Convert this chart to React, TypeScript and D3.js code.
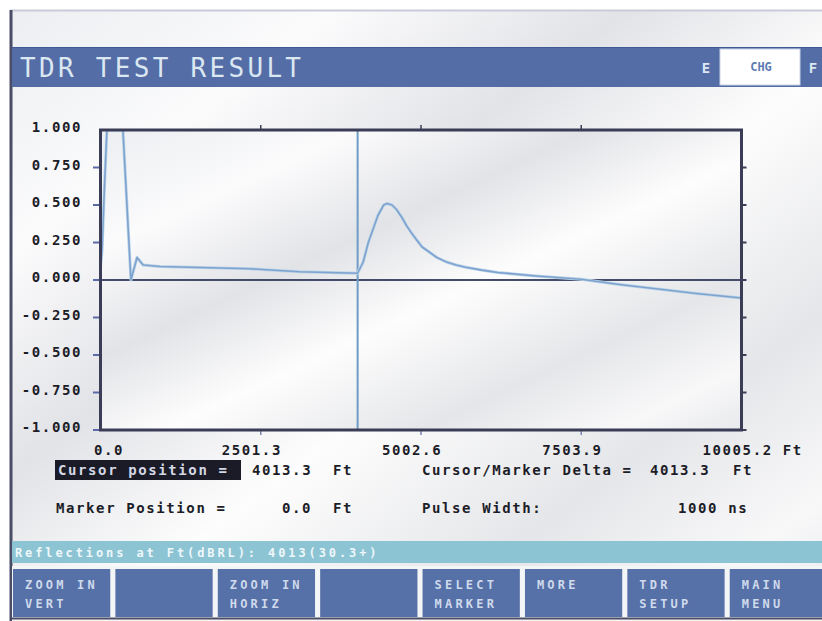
import React from 'react';
import * as d3 from 'd3';

// trace: distance (ft) vs reflection coefficient
const traceFt = [0, 25, 55, 100, 350, 400, 475, 570, 665, 930, 2330, 3110, 4013, 4100, 4180, 4330, 4420, 4470, 4550, 4620, 4700, 4780, 4860, 4930, 5020, 5120, 5250, 5400, 5550, 5700, 5950, 6200, 6800, 7500, 8100, 8700, 9300, 10005.2];
const traceVal = [0.08, 0.2, 0.55, 1.0, 1.0, 0.6, 0.0, 0.15, 0.1, 0.09, 0.075, 0.055, 0.045, 0.12, 0.25, 0.43, 0.5, 0.51, 0.5, 0.47, 0.42, 0.36, 0.31, 0.27, 0.22, 0.19, 0.15, 0.12, 0.1, 0.085, 0.066, 0.05, 0.027, 0.005, -0.03, -0.06, -0.09, -0.12];

const yTicks = [1, 0.75, 0.5, 0.25, 0, -0.25, -0.5, -0.75, -1];
const xTicks = [0, 2501.3, 5002.6, 7503.9, 10005.2];
const cursorFt = 4013.3;

const buttons = [
  ['ZOOM IN', 'VERT'],
  ['', ''],
  ['ZOOM IN', 'HORIZ'],
  ['', ''],
  ['SELECT', 'MARKER'],
  ['MORE', ''],
  ['TDR', 'SETUP'],
  ['MAIN', 'MENU'],
];

const MONO = '"DejaVu Sans Mono", "Liberation Mono", monospace';

export default function App() {
  const W = 822;
  const H = 621;
  const plot = { left: 100.5, right: 741.5, top: 130, bottom: 430 };

  const x = d3.scaleLinear().domain([0, 10005.2]).range([plot.left, plot.right]);
  const y = d3.scaleLinear().domain([-1, 1]).range([plot.bottom, plot.top]);

  const pts = traceFt.map((f, i) => [f, traceVal[i]] as [number, number]);
  const line = d3.line<[number, number]>()
    .x(d => x(d[0]))
    .y(d => y(d[1]));

  const lbl = { fontFamily: MONO, fontSize: 14, fontWeight: 700, letterSpacing: 1.6, fill: '#1c1d28' } as const;
  const key = { fontFamily: MONO, fontSize: 12, fontWeight: 700, letterSpacing: 3.2, fill: '#cfdaec' } as const;

  const btnX = d3.scaleBand<number>().domain(d3.range(8)).range([13, 827]).paddingInner(0.05);

  return (
    <div style={{ position: 'fixed', left: 0, top: 0 }}>
      <svg width={W} height={H} viewBox={`0 0 ${W} ${H}`}>
        <defs>
          <linearGradient id="metal" x1="0" y1="0" x2="1" y2="1">
            <stop offset="0" stopColor="#eceef1" />
            <stop offset="0.2" stopColor="#fbfbfc" />
            <stop offset="0.38" stopColor="#e2e3e7" />
            <stop offset="0.55" stopColor="#fdfdfd" />
            <stop offset="0.75" stopColor="#e5e6e9" />
            <stop offset="0.9" stopColor="#f8f8f9" />
            <stop offset="1" stopColor="#e8e9ec" />
          </linearGradient>
          <clipPath id="plotClip">
            <rect x={plot.left} y={plot.top - 1} width={plot.right - plot.left} height={plot.bottom - plot.top + 2} />
          </clipPath>
        </defs>

        <rect x={0} y={0} width={W} height={H} fill="#ffffff" />
        <rect x={10} y={10} width={W - 10} height={H - 10} fill="url(#metal)" />
        <line x1={10} x2={W} y1={10.5} y2={10.5} stroke="#c9ccd8" strokeWidth={2} />
        <line x1={11} x2={11} y1={10} y2={H} stroke="#4a4d66" strokeWidth={3} />

        {/* title bar */}
        <rect x={12} y={47} width={W - 12} height={40} fill="#546da6" />
        <line x1={12} x2={W} y1={47.5} y2={47.5} stroke="#3f5896" strokeWidth={1} />
        <text x={20} y={77} fontFamily={MONO} fontSize={26} letterSpacing={3.3} fill="#dbe7f1">TDR TEST RESULT</text>
        <text x={706} y={73} fontFamily={MONO} fontSize={14} fontWeight={700} fill="#dbe7f1" textAnchor="middle">E</text>
        <rect x={720} y={49} width={80} height={36} fill="#ffffff" stroke="#c9d3e6" strokeWidth={1} />
        <text x={761} y={71} fontFamily={MONO} fontSize={12} fontWeight={700} fill="#5d7cb3" textAnchor="middle">CHG</text>
        <text x={813} y={73} fontFamily={MONO} fontSize={14} fontWeight={700} fill="#dbe7f1" textAnchor="middle">F</text>

        {/* plot */}
        <rect x={plot.left} y={plot.top} width={plot.right - plot.left} height={plot.bottom - plot.top} fill="url(#metal)" />

        {yTicks.slice(1).map(v => (
          <g key={'yt' + v}>
            <line x1={93} x2={plot.left} y1={y(v)} y2={y(v)} stroke="#5a6aa6" strokeWidth={2} />
            <line x1={plot.right} x2={plot.right + 5} y1={y(v)} y2={y(v)} stroke="#3a3d58" strokeWidth={2} />
          </g>
        ))}
        {yTicks.map(v => (
          <text key={'yl' + v} x={82} y={y(v) + 2} textAnchor="end" {...lbl}>{d3.format('.3f')(v).replace('−', '-')}</text>
        ))}

        {xTicks.slice(1, 4).map(v => (
          <g key={'xt' + v}>
            <line x1={x(v)} x2={x(v)} y1={plot.top - 5} y2={plot.top} stroke="#3a3d58" strokeWidth={1.5} />
            <line x1={x(v)} x2={x(v)} y1={plot.bottom} y2={plot.bottom + 5} stroke="#7a86b0" strokeWidth={1.5} />
          </g>
        ))}
        {xTicks.map((v, i) => (
          <text key={'xl' + v} x={i === 0 ? 94 : x(v) - 39} y={455} {...lbl}>
            {d3.format('.1f')(v)}{i === xTicks.length - 1 ? ' Ft' : ''}
          </text>
        ))}

        <line x1={plot.left} x2={plot.right} y1={y(0)} y2={y(0)} stroke="#474b6a" strokeWidth={2} />
        <line x1={x(cursorFt)} x2={x(cursorFt)} y1={plot.top} y2={plot.bottom} stroke="#6d9dc6" strokeWidth={2} />

        <g clipPath="url(#plotClip)">
          <path d={line(pts) || ''} fill="none" stroke="#b9d3e6" strokeWidth={3} strokeLinejoin="round" />
          <path d={line(pts) || ''} fill="none" stroke="#7fa3d0" strokeWidth={1.6} strokeLinejoin="round" />
        </g>

        <rect x={plot.left} y={plot.top} width={plot.right - plot.left} height={plot.bottom - plot.top}
          fill="none" stroke="#3b3d56" strokeWidth={3} />

        {/* readouts */}
        <rect x={55} y={460} width={186} height={20} fill="#1a1b26" />
        <text x={58} y={475} {...lbl} fill="#d4d8e4">Cursor position =</text>
        <text x={252} y={475} {...lbl}>4013.3</text>
        <text x={333} y={475} {...lbl}>Ft</text>
        <text x={422} y={475} {...lbl}>Cursor/Marker Delta =</text>
        <text x={650} y={475} {...lbl}>4013.3</text>
        <text x={733} y={475} {...lbl}>Ft</text>

        <text x={56} y={513} {...lbl}>Marker Position =</text>
        <text x={282} y={513} {...lbl}>0.0</text>
        <text x={333} y={513} {...lbl}>Ft</text>
        <text x={422} y={513} {...lbl}>Pulse Width:</text>
        <text x={678} y={513} {...lbl}>1000 ns</text>

        {/* reflections bar */}
        <rect x={12} y={541} width={W - 12} height={22} fill="#8cc4d4" />
        <text x={15} y={557} fontFamily={MONO} fontSize={12} fontWeight={700} letterSpacing={2.9} fill="#eef7fa">Reflections at Ft(dBRL): 4013(30.3+)</text>

        {/* soft keys */}
        <rect x={12} y={566} width={W - 12} height={H - 566} fill="#f4f5f7" />
        {buttons.map((b, i) => (
          <g key={'b' + i}>
            <rect x={btnX(i)} y={569} width={btnX.bandwidth()} height={48} fill="#5670a8" />
            <text x={(btnX(i) || 0) + 12} y={589} {...key}>{b[0]}</text>
            <text x={(btnX(i) || 0) + 12} y={608} {...key}>{b[1]}</text>
          </g>
        ))}
        <line x1={12} x2={W} y1={618.5} y2={618.5} stroke="#4a4d66" strokeWidth={2} />
      </svg>
    </div>
  );
}
